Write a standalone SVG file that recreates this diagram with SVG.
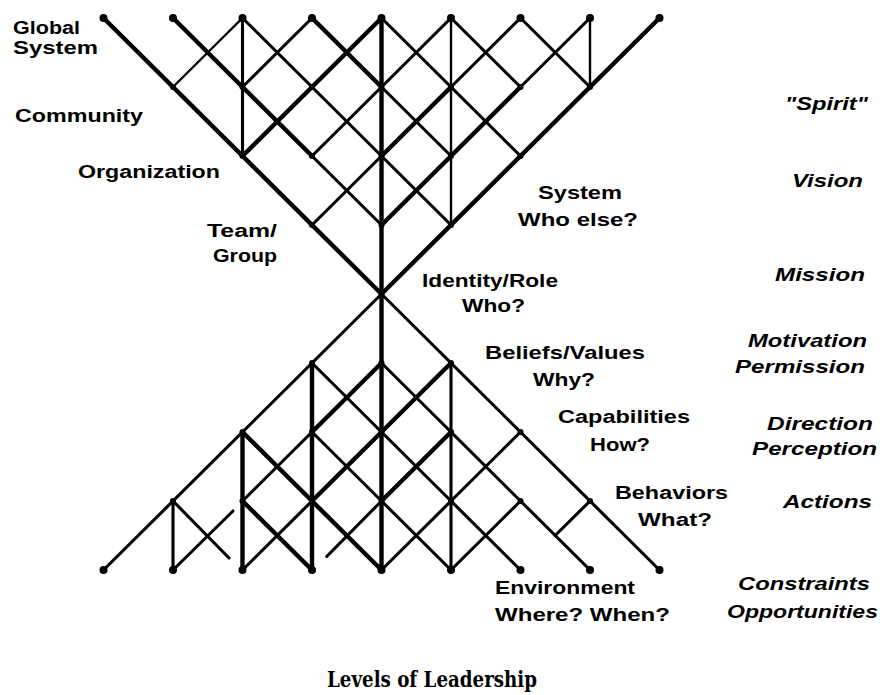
<svg xmlns="http://www.w3.org/2000/svg" width="880" height="695" viewBox="0 0 880 695">
<style>
.w1{stroke:#000;stroke-width:2.4;fill:none;stroke-linecap:round}
.w2{stroke:#000;stroke-width:3.1;fill:none;stroke-linecap:round}
.w3{stroke:#000;stroke-width:4.4;fill:none;stroke-linecap:round}
.dot{fill:#000}
.lbl{font-family:"Liberation Sans",Arial,sans-serif;font-weight:bold;font-size:18px;fill:#000}
.it{font-style:italic}
.ttl{font-family:"DejaVu Serif","Liberation Serif",serif;font-weight:bold;font-size:23px;fill:#000}
</style>
<rect width="880" height="695" fill="#fff"/>
<g id="connectors">
<path class="w3" d="M103.5,18 L381.5,294"/>
<path class="w3" d="M659.5,18 L381.5,294"/>
<path class="w2" d="M242.5,18 V156"/>
<path class="w3" d="M381.5,18 V294"/>
<path class="w1" d="M451,18 V225"/>
<path class="w1" d="M590,18 V87"/>
<path class="w3" d="M173,18 L242.5,87 L312,156"/>
<path class="w1" d="M242.5,18 L173,87"/>
<path class="w2" d="M242.5,18 L312,87"/>
<path class="w2" d="M312,18 L242.5,87"/>
<path class="w3" d="M312,18 L381.5,87"/>
<path class="w3" d="M381.5,18 L312,87 L242.5,156"/>
<path class="w2" d="M381.5,18 L451,87"/>
<path class="w2" d="M451,18 L381.5,87"/>
<path class="w2" d="M451,18 L520.5,87"/>
<path class="w2" d="M520.5,18 L451,87"/>
<path class="w2" d="M520.5,18 L590,87"/>
<path class="w2" d="M590,18 L520.5,87"/>
<path class="w2" d="M312,87 L381.5,156"/>
<path class="w2" d="M381.5,87 L312,156"/>
<path class="w2" d="M381.5,87 L451,156"/>
<path class="w3" d="M451,87 L381.5,156"/>
<path class="w2" d="M451,87 L520.5,156"/>
<path class="w3" d="M520.5,87 L451,156"/>
<path class="w2" d="M312,156 L381.5,225"/>
<path class="w2" d="M381.5,156 L312,225"/>
<path class="w2" d="M381.5,156 L451,225"/>
<path class="w3" d="M451,156 L381.5,225"/>
<path class="w2" d="M381.5,294 L103.5,570"/>
<path class="w2" d="M381.5,294 L659.5,570"/>
<path class="w3" d="M381.5,294 V570"/>
<path class="w3" d="M312,363 V570"/>
<path class="w3" d="M242.5,432 V570"/>
<path class="w2" d="M173,501 V570"/>
<path class="w2" d="M451,363 V570"/>
<path class="w2" d="M312,363 L381.5,432"/>
<path class="w3" d="M381.5,363 L312,432"/>
<path class="w2" d="M381.5,363 L451,432"/>
<path class="w3" d="M451,363 L381.5,432"/>
<path class="w3" d="M242.5,432 L312,501"/>
<path class="w2" d="M312,432 L242.5,501"/>
<path class="w2" d="M312,432 L381.5,501"/>
<path class="w3" d="M381.5,432 L312,501"/>
<path class="w2" d="M381.5,432 L451,501"/>
<path class="w3" d="M451,432 L381.5,501"/>
<path class="w2" d="M451,432 L520.5,501"/>
<path class="w2" d="M520.5,432 L451,501"/>
<path class="w2" d="M173,501 L229,558"/>
<path class="w2" d="M233,511 L173,570"/>
<path class="w3" d="M242.5,501 L312,570"/>
<path class="w2" d="M312,501 L242.5,570"/>
<path class="w3" d="M312,501 L381.5,570"/>
<path class="w2" d="M381.5,501 L326.7,556.5"/>
<path class="w2" d="M381.5,501 L451,570"/>
<path class="w2" d="M451,501 L381.5,570"/>
<path class="w2" d="M451,501 L520.5,570"/>
<path class="w2" d="M520.5,501 L451,570"/>
<path class="w2" d="M520.5,501 L590,570"/>
<path class="w2" d="M590,501 L555.2,535.5"/>
</g>
<g id="dots">
<circle class="dot" cx="103.5" cy="18" r="4"/><circle class="dot" cx="173" cy="18" r="4"/><circle class="dot" cx="242.5" cy="18" r="4"/><circle class="dot" cx="312" cy="18" r="4"/><circle class="dot" cx="381.5" cy="18" r="4"/><circle class="dot" cx="451" cy="18" r="4"/><circle class="dot" cx="520.5" cy="18" r="4"/><circle class="dot" cx="590" cy="18" r="4"/><circle class="dot" cx="659.5" cy="18" r="4"/>
<circle class="dot" cx="173" cy="87" r="3"/><circle class="dot" cx="242.5" cy="87" r="3"/><circle class="dot" cx="312" cy="87" r="3"/><circle class="dot" cx="381.5" cy="87" r="3"/><circle class="dot" cx="451" cy="87" r="3"/><circle class="dot" cx="520.5" cy="87" r="3"/><circle class="dot" cx="590" cy="87" r="3"/>
<circle class="dot" cx="242.5" cy="156" r="3"/><circle class="dot" cx="312" cy="156" r="3"/><circle class="dot" cx="381.5" cy="156" r="3"/><circle class="dot" cx="451" cy="156" r="3"/><circle class="dot" cx="520.5" cy="156" r="3"/>
<circle class="dot" cx="312" cy="225" r="3"/><circle class="dot" cx="381.5" cy="225" r="3"/><circle class="dot" cx="451" cy="225" r="3"/>
<circle class="dot" cx="381.5" cy="294" r="3"/>
<circle class="dot" cx="312" cy="363" r="3"/><circle class="dot" cx="381.5" cy="363" r="3"/><circle class="dot" cx="451" cy="363" r="3"/>
<circle class="dot" cx="242.5" cy="432" r="3"/><circle class="dot" cx="312" cy="432" r="3"/><circle class="dot" cx="381.5" cy="432" r="3"/><circle class="dot" cx="451" cy="432" r="3"/><circle class="dot" cx="520.5" cy="432" r="3"/>
<circle class="dot" cx="173" cy="501" r="3"/><circle class="dot" cx="242.5" cy="501" r="3"/><circle class="dot" cx="312" cy="501" r="3"/><circle class="dot" cx="381.5" cy="501" r="3"/><circle class="dot" cx="451" cy="501" r="3"/><circle class="dot" cx="520.5" cy="501" r="3"/><circle class="dot" cx="590" cy="501" r="3"/>
<circle class="dot" cx="103.5" cy="570" r="4"/><circle class="dot" cx="173" cy="570" r="4"/><circle class="dot" cx="242.5" cy="570" r="4"/><circle class="dot" cx="312" cy="570" r="4"/><circle class="dot" cx="381.5" cy="570" r="4"/><circle class="dot" cx="451" cy="570" r="4"/><circle class="dot" cx="520.5" cy="570" r="4"/><circle class="dot" cx="590" cy="570" r="4"/><circle class="dot" cx="659.5" cy="570" r="4"/>
</g>
<g id="global-system"><text class="lbl" x="13" y="34" font-size="16" textLength="67" lengthAdjust="spacingAndGlyphs">Global</text><text class="lbl" x="13" y="54" font-size="16" textLength="85" lengthAdjust="spacingAndGlyphs">System</text></g>
<g id="community"><text class="lbl" x="15" y="122" font-size="21" textLength="128" lengthAdjust="spacingAndGlyphs">Community</text></g>
<g id="organization"><text class="lbl" x="78" y="178" font-size="20" textLength="142" lengthAdjust="spacingAndGlyphs">Organization</text></g>
<g id="team-group"><text class="lbl" x="207" y="237" font-size="19" textLength="70" lengthAdjust="spacingAndGlyphs">Team/</text><text class="lbl" x="213" y="262" font-size="19" textLength="64" lengthAdjust="spacingAndGlyphs">Group</text></g>
<g id="system"><text class="lbl" x="538" y="199" textLength="84" lengthAdjust="spacingAndGlyphs">System</text><text class="lbl" x="518" y="226" textLength="120" lengthAdjust="spacingAndGlyphs">Who else?</text></g>
<g id="identity"><text class="lbl" x="422" y="287" textLength="136" lengthAdjust="spacingAndGlyphs">Identity/Role</text><text class="lbl" x="462" y="312" textLength="63" lengthAdjust="spacingAndGlyphs">Who?</text></g>
<g id="beliefs"><text class="lbl" x="485" y="359" textLength="160" lengthAdjust="spacingAndGlyphs">Beliefs/Values</text><text class="lbl" x="533" y="386" textLength="62" lengthAdjust="spacingAndGlyphs">Why?</text></g>
<g id="capabilities"><text class="lbl" x="558" y="423" textLength="132" lengthAdjust="spacingAndGlyphs">Capabilities</text><text class="lbl" x="590" y="451" textLength="60" lengthAdjust="spacingAndGlyphs">How?</text></g>
<g id="behaviors"><text class="lbl" x="615" y="499" textLength="113" lengthAdjust="spacingAndGlyphs">Behaviors</text><text class="lbl" x="638" y="526" textLength="74" lengthAdjust="spacingAndGlyphs">What?</text></g>
<g id="environment"><text class="lbl" x="495" y="594" textLength="140" lengthAdjust="spacingAndGlyphs">Environment</text><text class="lbl" x="495" y="621" textLength="175" lengthAdjust="spacingAndGlyphs">Where? When?</text></g>
<g id="spirit"><text class="lbl it" x="785" y="110" textLength="83" lengthAdjust="spacingAndGlyphs">"Spirit"</text></g>
<g id="vision"><text class="lbl it" x="792" y="187" textLength="71" lengthAdjust="spacingAndGlyphs">Vision</text></g>
<g id="mission"><text class="lbl it" x="775" y="281" textLength="90" lengthAdjust="spacingAndGlyphs">Mission</text></g>
<g id="motivation"><text class="lbl it" x="748" y="347" textLength="119" lengthAdjust="spacingAndGlyphs">Motivation</text><text class="lbl it" x="735" y="373" textLength="130" lengthAdjust="spacingAndGlyphs">Permission</text></g>
<g id="direction"><text class="lbl it" x="767" y="430" textLength="106" lengthAdjust="spacingAndGlyphs">Direction</text><text class="lbl it" x="752" y="455" textLength="125" lengthAdjust="spacingAndGlyphs">Perception</text></g>
<g id="actions"><text class="lbl it" x="783" y="508" textLength="89" lengthAdjust="spacingAndGlyphs">Actions</text></g>
<g id="constraints"><text class="lbl it" x="738" y="590" textLength="132" lengthAdjust="spacingAndGlyphs">Constraints</text><text class="lbl it" x="727" y="618" textLength="151" lengthAdjust="spacingAndGlyphs">Opportunities</text></g>
<g id="title"><text class="ttl" x="327" y="687" textLength="210" lengthAdjust="spacingAndGlyphs">Levels of Leadership</text></g>
</svg>
